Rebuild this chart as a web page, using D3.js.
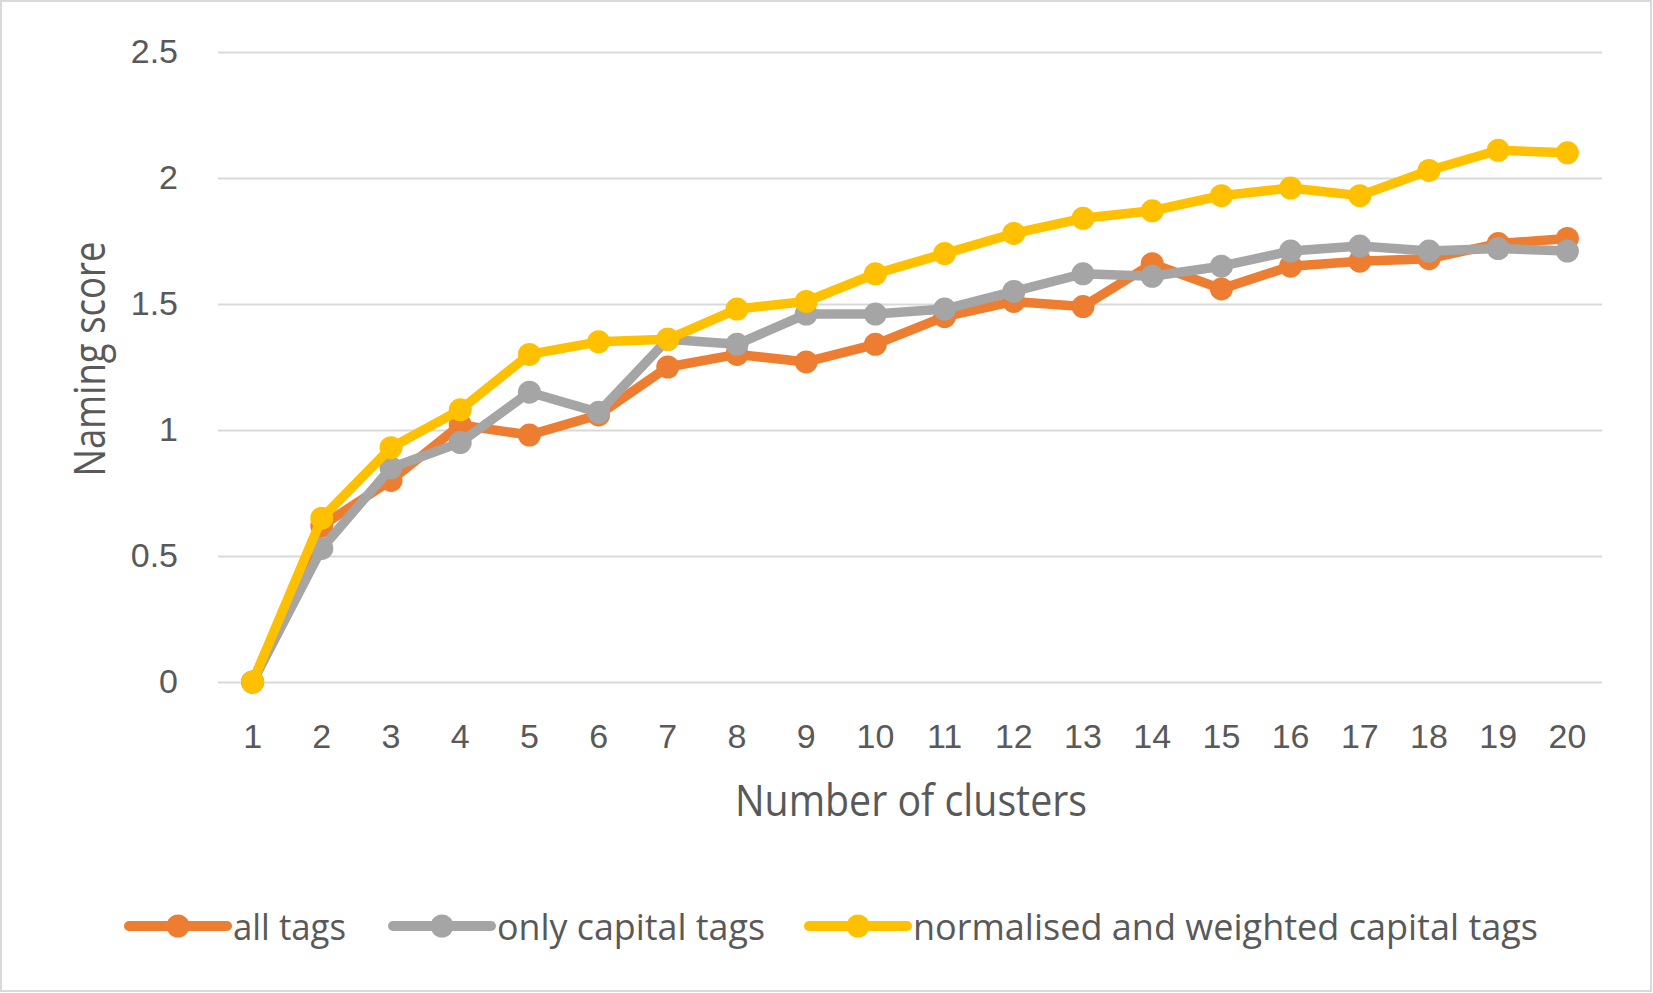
<!DOCTYPE html>
<html>
<head>
<meta charset="utf-8">
<script src="https://cdn.jsdelivr.net/npm/d3@7"></script>
<style>
    html, body { margin: 0; padding: 0; background: #fff; }
    svg { display: block; font-family: "Open Sans", "Noto Sans", sans-serif; }
    .axis text { fill: #595959; font-size: 34px; }
    .axis .domain { display: none; }
    .y-axis line { stroke: #d9d9d9; stroke-width: 2px; }
    .axis-title, .legend text { fill: #595959; }
</style>
</head>
<body>
<div id="chart"></div>
<script>
// categories and series
const clusters = ['1', '2', '3', '4', '5', '6', '7', '8', '9', '10', '11', '12', '13', '14', '15', '16', '17', '18', '19', '20'];
const allTags = [0, 0.62, 0.80, 1.02, 0.98, 1.06, 1.25, 1.30, 1.27, 1.34, 1.45, 1.51, 1.49, 1.66, 1.56, 1.65, 1.67, 1.68, 1.74, 1.76];
const capitalTags = [0, 0.53, 0.85, 0.95, 1.15, 1.07, 1.36, 1.34, 1.46, 1.46, 1.48, 1.55, 1.62, 1.61, 1.65, 1.71, 1.73, 1.71, 1.72, 1.71];
const weightedTags = [0, 0.65, 0.93, 1.08, 1.30, 1.35, 1.36, 1.48, 1.51, 1.62, 1.70, 1.78, 1.84, 1.87, 1.93, 1.96, 1.93, 2.03, 2.11, 2.10];
const seriesNames = ['all tags', 'only capital tags', 'normalised and weighted capital tags'];
const yTicks = [0, 0.5, 1, 1.5, 2, 2.5];

const series = [
    { name: seriesNames[0], values: allTags, color: '#ED7D31' },
    { name: seriesNames[1], values: capitalTags, color: '#A5A5A5' },
    { name: seriesNames[2], values: weightedTags, color: '#FFC000' }
];

const width = 1653;
const height = 993;
const margin = { top: 52, right: 51, bottom: 311, left: 218 };
const boundedWidth = width - margin.left - margin.right;
const boundedHeight = height - margin.top - margin.bottom;

const svg = d3.select('#chart')
    .append('svg')
    .attr('width', width)
    .attr('height', height);

// outer frame
svg.append('rect')
    .attr('x', 1).attr('y', 1)
    .attr('width', width - 3).attr('height', height - 3)
    .attr('fill', 'none')
    .attr('stroke', '#d9d9d9')
    .attr('stroke-width', 2);

const viz = svg.append('g')
    .attr('transform', `translate(${margin.left}, ${margin.top})`);

const xScale = d3.scaleBand()
    .domain(clusters)
    .range([0, boundedWidth]);

const yScale = d3.scaleLinear()
    .domain([0, 2.5])
    .range([boundedHeight, 0]);

// y axis + gridlines
viz.append('g')
    .attr('class', 'axis y-axis')
    .call(d3.axisLeft(yScale)
        .tickValues(yTicks)
        .tickFormat(d3.format('~g'))
        .tickSize(-boundedWidth)
        .tickPadding(40));

// x axis
viz.append('g')
    .attr('class', 'axis x-axis')
    .attr('transform', `translate(0, ${boundedHeight})`)
    .call(d3.axisBottom(xScale)
        .tickSize(0)
        .tickPadding(42));

// axis titles
svg.append('text')
    .attr('class', 'axis-title')
    .attr('x', 911)
    .attr('y', 816)
    .attr('text-anchor', 'middle')
    .attr('font-size', 43)
    .attr('textLength', 352)
    .attr('lengthAdjust', 'spacingAndGlyphs')
    .text('Number of clusters');

svg.append('text')
    .attr('class', 'axis-title')
    .attr('transform', 'translate(105, 359) rotate(-90)')
    .attr('text-anchor', 'middle')
    .attr('font-size', 43)
    .attr('textLength', 235)
    .attr('lengthAdjust', 'spacingAndGlyphs')
    .text('Naming score');

// lines and markers
const xPos = (d, i) => xScale(clusters[i]) + xScale.bandwidth() / 2;
const line = d3.line()
    .x(xPos)
    .y(d => yScale(d));

series.forEach(s => {
    const g = viz.append('g');
    g.append('path')
        .datum(s.values)
        .attr('d', line)
        .attr('fill', 'none')
        .attr('stroke', s.color)
        .attr('stroke-width', 9.5)
        .attr('stroke-linejoin', 'round')
        .attr('stroke-linecap', 'round');
    g.selectAll('circle')
        .data(s.values)
        .join('circle')
        .attr('cx', xPos)
        .attr('cy', d => yScale(d))
        .attr('r', 11.5)
        .attr('fill', s.color);
});

// legend
const legendX = [129, 393, 809];
const legendTextW = [113, 268, 625];
const legendY = 926;
const legend = svg.append('g').attr('class', 'legend');

series.forEach((s, i) => {
    const item = legend.append('g')
        .attr('transform', `translate(${legendX[i]}, ${legendY})`);
    item.append('line')
        .attr('x1', 0).attr('x2', 98)
        .attr('stroke', s.color)
        .attr('stroke-width', 10)
        .attr('stroke-linecap', 'round');
    item.append('circle')
        .attr('cx', 49)
        .attr('r', 11.5)
        .attr('fill', s.color);
    item.append('text')
        .attr('x', 104)
        .attr('y', 14)
        .attr('font-size', 37)
        .attr('textLength', legendTextW[i])
        .attr('lengthAdjust', 'spacingAndGlyphs')
        .text(s.name);
});
</script>
</body>
</html>
